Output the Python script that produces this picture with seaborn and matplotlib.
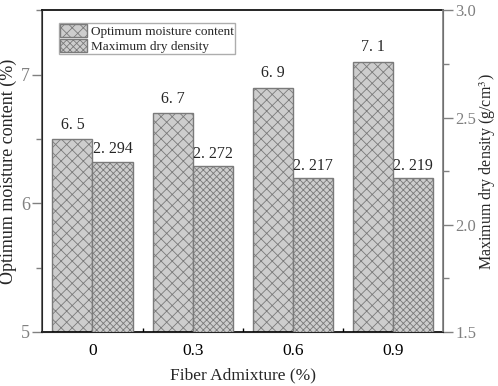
import numpy as np
import pandas as pd
import seaborn as sns
import matplotlib.pyplot as plt
from matplotlib.ticker import MultipleLocator, FixedLocator
from matplotlib.patches import Patch

# values
fiber = ['0', '0.3', '0.6', '0.9']
moisture = [6.5, 6.7, 6.9, 7.1]
density = [2.294, 2.272, 2.217, 2.219]
moist_labels = ['6. 5', '6. 7', '6. 9', '7. 1']
dens_labels = ['2. 294', '2. 272', '2. 217', '2. 219']

sns.set_style('white')
plt.rcParams['font.family'] = ['Liberation Serif', 'DejaVu Serif']
plt.rcParams['mathtext.fontset'] = 'stix'
plt.rcParams['hatch.color'] = '#6a6a6a'
plt.rcParams['hatch.linewidth'] = 0.6

df = pd.DataFrame({'fiber': fiber, 'moisture': moisture, 'density': density})

fig, ax1 = plt.subplots(figsize=(4.98, 3.86), dpi=100)
fig.subplots_adjust(left=0.085, right=0.89, top=0.973, bottom=0.14)
ax2 = ax1.twinx()

fill = '#cdcdcd'
edge = '#7a7a7a'
bw = 0.4

sns.barplot(data=df, x='fiber', y='moisture', ax=ax1, width=bw, color=fill,
            edgecolor=edge, linewidth=1, saturation=1, errorbar=None)
sns.barplot(data=df, x='fiber', y='density', ax=ax2, width=bw, color=fill,
            edgecolor=edge, linewidth=1, saturation=1, errorbar=None)

# put the two series side by side
for p in ax1.patches:
    p.set_x(p.get_x() - bw / 2)
    p.set_hatch('xxx')
for p in ax2.patches:
    p.set_x(p.get_x() + bw / 2)
    p.set_hatch('xxxxx')

for i, p in enumerate(ax1.patches):
    ax1.text(p.get_x() + p.get_width() / 2, p.get_height() + 0.05, moist_labels[i],
             ha='center', va='bottom', fontsize=11.5)
for i, p in enumerate(ax2.patches):
    ax2.text(p.get_x() + p.get_width() / 2, p.get_height() + 0.02, dens_labels[i],
             ha='center', va='bottom', fontsize=11.5)

ax1.set_xlim(-0.5, 3.5)
ax1.set_ylim(5, 7.5)
ax2.set_ylim(1.5, 3.0)

ax1.yaxis.set_major_locator(MultipleLocator(1))
ax1.yaxis.set_minor_locator(MultipleLocator(0.5))
ax2.yaxis.set_major_locator(MultipleLocator(0.5))
ax2.yaxis.set_minor_locator(MultipleLocator(0.25))
ax2.yaxis.set_major_formatter(plt.FormatStrFormatter('%.1f'))
ax1.xaxis.set_minor_locator(FixedLocator([0.5, 1.5, 2.5]))

tick_gray = '#808080'
ax1.tick_params(axis='y', which='major', direction='out', length=7, width=1,
                colors=tick_gray, labelsize=13, left=True, pad=2)
ax1.tick_params(axis='y', which='minor', direction='out', length=4, width=1,
                colors=tick_gray, left=True)
ax1.tick_params(axis='x', which='major', direction='in', length=4, width=1,
                color='black', labelcolor='black', labelsize=12.5, bottom=True, pad=8)
ax1.tick_params(axis='x', which='minor', direction='in', length=3, width=1,
                color='black', bottom=True)
ax2.tick_params(axis='y', which='major', direction='out', length=7, width=1,
                colors=tick_gray, labelsize=12, right=True, pad=1.5)
ax2.tick_params(axis='y', which='minor', direction='out', length=4, width=1,
                colors=tick_gray, right=True)

for s in ['bottom', 'top']:
    ax1.spines[s].set_color('black')
    ax1.spines[s].set_linewidth(1.2)
ax1.spines['left'].set_color('#555555')
ax1.spines['left'].set_linewidth(1.2)
ax2.spines['right'].set_color(tick_gray)
ax2.spines['right'].set_linewidth(1.2)
ax2.spines['top'].set_visible(False)

ax1.set_xlabel('Fiber Admixture (%)', fontsize=12.5, labelpad=6)
ax1.set_ylabel('Optimum moisture content (%)', fontsize=13, labelpad=3)
ax2.set_ylabel('Maximum dry density (g/cm$^3$)', fontsize=11.5, labelpad=1)

handles = [Patch(facecolor=fill, edgecolor=edge, hatch='xxx', label='Optimum moisture content'),
           Patch(facecolor=fill, edgecolor=edge, hatch='xxxxx', label='Maximum dry density')]
leg = ax1.legend(handles=handles, loc='upper left', bbox_to_anchor=(0.042, 0.962),
                 fontsize=9.5, frameon=True, fancybox=False, borderpad=0.1,
                 handlelength=2.0, handleheight=1.2, handletextpad=0.3, labelspacing=0.05,
                 borderaxespad=0)
leg.get_frame().set_edgecolor('#999999')
leg.get_frame().set_linewidth(1)

fig.savefig('out.png', dpi=100)
